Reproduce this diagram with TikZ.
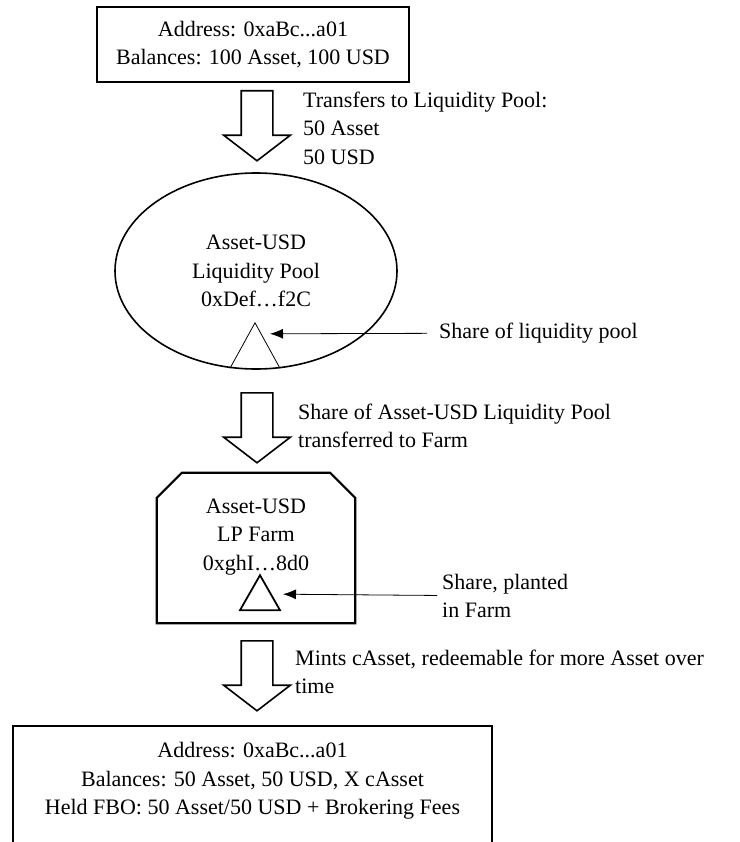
\documentclass[tikz,border=0pt]{standalone}
\usepackage{fontspec}
\setmainfont{Liberation Serif}
\usetikzlibrary{calc, shapes, arrows.meta}
\tikzstyle{account}=[rectangle, draw, line width=1.6pt, align=center, inner sep=0pt]
\tikzstyle{pool}=[ellipse, draw, line width=1.6pt, align=center, inner sep=0pt, minimum width=282pt, minimum height=196pt]
\tikzstyle{flow arrow}=[single arrow, draw, line width=1.6pt, rotate=-90, anchor=tail, minimum height=70pt, minimum width=65pt, single arrow head extend=17.5pt, single arrow tip angle=105, inner xsep=0pt, inner ysep=15pt]
\tikzstyle{side note}=[align=left, anchor=west, inner sep=0pt]
\tikzstyle{pointer}=[-{Latex[length=13pt,width=10pt]}, line width=0.8pt]

\begin{document}
\begin{tikzpicture}[x=1pt, y=-1pt, font=\fontsize{22}{28.5}\selectfont]
		\useasboundingbox (0,0) rectangle (739,842);
		% accounts, pool and farm
		\node[account, minimum width=312pt, minimum height=75pt] (W-1) at (253,44.5) {Address: 0xaBc...a01\\Balances: 100 Asset, 100 USD};
		\node[pool] (P) at (256,271) {Asset-USD\\Liquidity Pool\\0xDef…f2C};
		\node[minimum width=198pt, minimum height=150pt, inner sep=0pt] (F) at (256,548) {};
		\node[align=center, inner sep=0pt] (F-txt) at (256,537) {Asset-USD\\LP Farm\\0xghI…8d0};
		\draw[line width=2.2pt] (F.south west) -- ([yshift=-25pt]F.north west) -- ([xshift=25pt]F.north west) -- ([xshift=-25pt]F.north east) -- ([yshift=-25pt]F.north east) -- (F.south east) -- cycle;
		\node[account, minimum width=479pt, minimum height=150pt, anchor=north] (W-2) at (252.5,725) {};
		\node[align=center, inner sep=0pt] (W-2-txt) at (252.5,781) {Address: 0xaBc...a01\\Balances: 50 Asset, 50 USD, X cAsset\\Held FBO: 50 Asset/50 USD + Brokering Fees};
		% shares
		\draw[line width=0.8pt] ($(P.south)+(-26,-1.5)$) -- ($(P.south)+(-1,-47)$) -- ($(P.south)+(24,-1.5)$);
		\coordinate (P-share) at ($(P.south)+(14,-36)$);
		\draw[line width=1.8pt] ($(F.south)+(-16,-13)$) -- ($(F.south)+(4,-48)$) -- ($(F.south)+(24,-13)$) -- cycle;
		\coordinate (F-share) at ($(F.south)+(27,-29)$);
		\node[side note, inner xsep=12pt] (P-note) at (427,333) {Share of liquidity pool};
		\node[side note, inner xsep=5pt] (F-note) at (437,596) {Share, planted\\in Farm};
		\path
		(P-note) edge[pointer] (P-share)
		(F-note) edge[pointer] (F-share);
		% flows
		\node[flow arrow] (A-1) at (257,90) {};
		\node[flow arrow] (A-2) at (257,392) {};
		\node[flow arrow] (A-3) at (257,640) {};
		\node[side note] (A-1-note) at (303,128) {Transfers to Liquidity Pool:\\50 Asset\\50 USD};
		\node[side note] (A-2-note) at (298,426) {Share of Asset-USD Liquidity Pool\\transferred to Farm};
		\node[side note] (A-3-note) at (295,672) {Mints cAsset, redeemable for more Asset over\\time};
	\end{tikzpicture}
\end{document}
